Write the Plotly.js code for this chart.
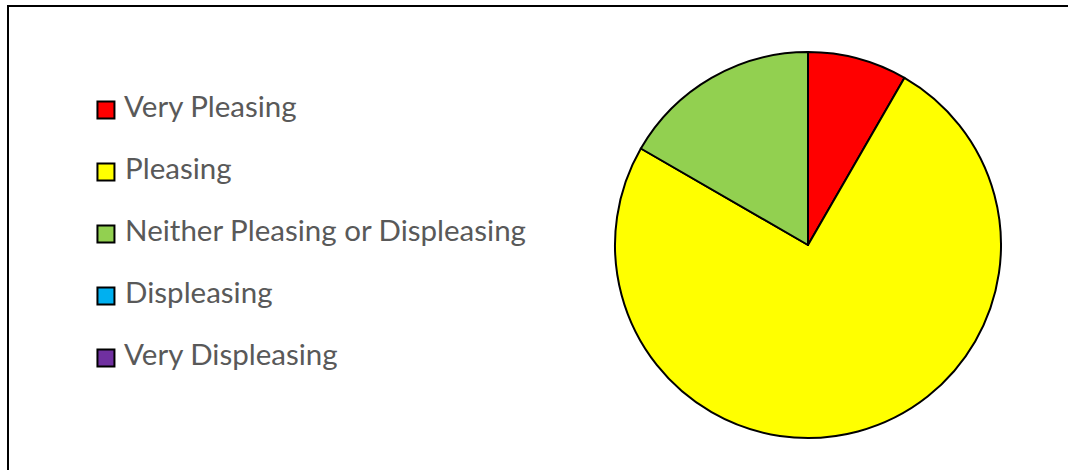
<!DOCTYPE html>
<html>
<head>
<meta charset="utf-8">
<script src="https://cdn.plot.ly/plotly-3.0.1.min.js"></script>
<style>html,body{margin:0;padding:0;background:#fff;}#chart{width:1068px;height:470px;}</style>
</head>
<body>
<div id="chart"></div>
<script>
// Data
var categories = ["Very Pleasing", "Pleasing", "Neither Pleasing or Displeasing", "Displeasing", "Very Displeasing"];
var responses = [1, 9, 2, 0, 0];
var sliceColors = ["#FF0000", "#FFFF00", "#92D050", "#00B0F0", "#7030A0"];

var pieTrace = {
  type: "pie",
  labels: categories,
  values: responses,
  sort: false,
  direction: "clockwise",
  rotation: 0,
  textinfo: "none",
  hoverinfo: "label+value+percent",
  showlegend: false,
  marker: { colors: sliceColors, line: { color: "#000000", width: 2 } },
  domain: { x: [615 / 1068, 1001 / 1068], y: [1 - 438 / 470, 1 - 52 / 470] }
};

// Legend drawn as a marker+text trace on hidden axes, one row per category
var legendTrace = {
  type: "scatter",
  mode: "markers+text",
  x: categories.map(function () { return 0; }),
  y: categories,
  text: categories.map(function (c) { return " " + c; }),
  textposition: "middle right",
  textfont: { family: "Lato, 'Open Sans', sans-serif", size: 29.5, color: "#595959" },
  marker: { symbol: "square", size: 17, color: sliceColors, line: { color: "#000000", width: 2 } },
  hoverinfo: "text",
  cliponaxis: false,
  showlegend: false
};

var layout = {
  width: 1068,
  height: 470,
  margin: { l: 0, r: 0, t: 0, b: 0 },
  paper_bgcolor: "#ffffff",
  plot_bgcolor: "rgba(0,0,0,0)",
  showlegend: false,
  xaxis: { domain: [0, 0.5], range: [-1, 4.04], visible: false, fixedrange: true },
  yaxis: { domain: [0, 1], type: "category", categoryorder: "array", categoryarray: categories,
           range: [5.806, -1.774], visible: false, fixedrange: true },
  shapes: [
    { type: "rect", xref: "paper", yref: "paper", x0: 8 / 1068, x1: 1.05, y0: -0.05, y1: 1 - 6 / 470,
      line: { color: "#000000", width: 2 }, fillcolor: "rgba(0,0,0,0)", layer: "below" }
  ]
};

Plotly.newPlot("chart", [pieTrace, legendTrace], layout, { displayModeBar: false, staticPlot: true });
</script>
</body>
</html>
